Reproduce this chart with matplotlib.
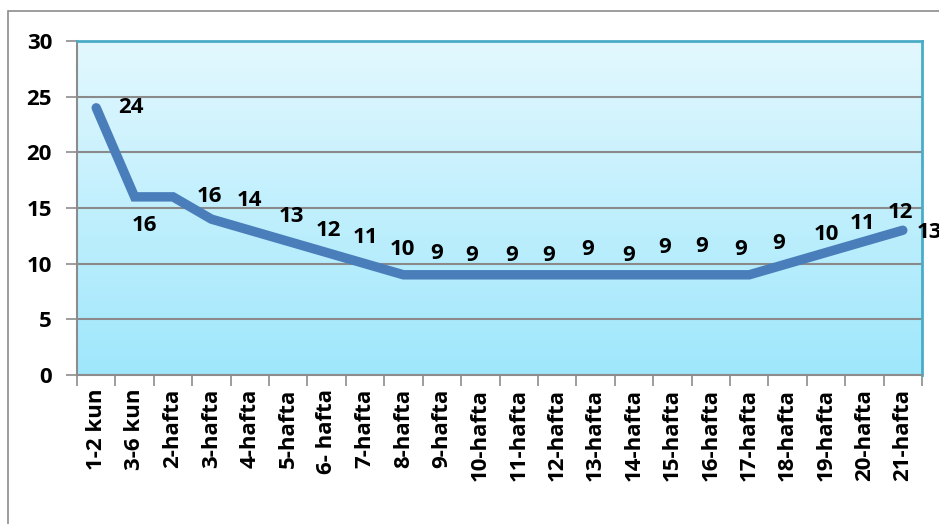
import numpy as np
import matplotlib
matplotlib.use('Agg')
import matplotlib.pyplot as plt
from matplotlib.patches import Rectangle
from matplotlib.colors import LinearSegmentedColormap

plt.rcParams['font.family'] = ['Open Sans', 'DejaVu Sans']
plt.rcParams['font.weight'] = 'bold'

# ma'lumotlar
categories = ['1-2 kun', '3-6 kun', '2-hafta', '3-hafta', '4-hafta', '5-hafta', '6- hafta',
              '7-hafta', '8-hafta', '9-hafta', '10-hafta', '11-hafta', '12-hafta', '13-hafta',
              '14-hafta', '15-hafta', '16-hafta', '17-hafta', '18-hafta', '19-hafta',
              '20-hafta', '21-hafta']
values = [24, 16, 16, 14, 13, 12, 11, 10, 9, 9, 9, 9, 9, 9, 9, 9, 9, 9, 10, 11, 12, 13]
y_ticks = [0, 5, 10, 15, 20, 25, 30]

# yorliqlarning siljishi (piksel), Excelda qo'lda surilgan
label_dx = [35, 10, 36, 38, 42, 40, 39, 37, 33, 30, 31, 30, 31, 33, 31, 29, 30, 29, 39, 36, 36, 27]
label_dy = [0, -29, 0, 19, 14, 11, 15, 14, 21, 19, 19, 19, 25, 19, 27, 28, 25, 31, 29, 29, 29, -2]

fig = plt.figure(figsize=(9.39, 5.24), dpi=100)
ax = fig.add_axes([77 / 939, 1 - 375 / 524, (922 - 77) / 939, (375 - 41) / 524])

# tashqi ramka
fig.patches.append(Rectangle((8 / 939, -0.1), 2, 1.1 - 11 / 524, transform=fig.transFigure,
                             fill=False, edgecolor='#8c8c8c', linewidth=1.2, zorder=0))

# gradient fon
cmap = LinearSegmentedColormap.from_list('bg', ['#e3f8fe', '#9fe7fc'])
grad = np.linspace(0, 1, 256).reshape(-1, 1)
ax.imshow(grad, cmap=cmap, aspect='auto', extent=[0, 1, 0, 1], transform=ax.transAxes, zorder=0)

x = np.arange(len(categories))
ax.plot(x, values, color='#4a7ebb', linewidth=6.8, solid_capstyle='round',
        solid_joinstyle='miter', zorder=3)

for i, v in enumerate(values):
    ax.annotate(str(v), (x[i], v), xytext=(label_dx[i], label_dy[i]), textcoords='offset pixels',
                ha='center', va='center', fontsize=16, fontweight='bold', color='black',
                annotation_clip=False, zorder=4)

ax.set_xlim(-0.5, len(categories) - 0.5)
ax.set_ylim(0, 30)
ax.set_yticks(y_ticks)
ax.set_yticklabels([str(t) for t in y_ticks], fontsize=16, fontweight='bold')
ax.set_xticks(np.arange(len(categories) + 1) - 0.5, minor=False)
ax.set_xticklabels([])
ax.set_xticks(x, minor=True)
ax.set_xticklabels(categories, minor=True, rotation=90, fontsize=16, fontweight='bold')
ax.tick_params(axis='x', which='minor', length=0, pad=10)
ax.tick_params(axis='x', which='major', length=8, color='#8c8c8c', width=1.2)
ax.tick_params(axis='y', length=8, color='#8c8c8c', width=1.2, pad=10)

ax.grid(axis='y', color='#8a8a8a', linewidth=1.5, zorder=1)
ax.set_axisbelow(True)
for s in ['top', 'right']:
    ax.spines[s].set_color('#4bacc6')
    ax.spines[s].set_linewidth(2)
for s in ['left', 'bottom']:
    ax.spines[s].set_color('#8c8c8c')
    ax.spines[s].set_linewidth(1.5)

fig.savefig('out.png', dpi=100)
